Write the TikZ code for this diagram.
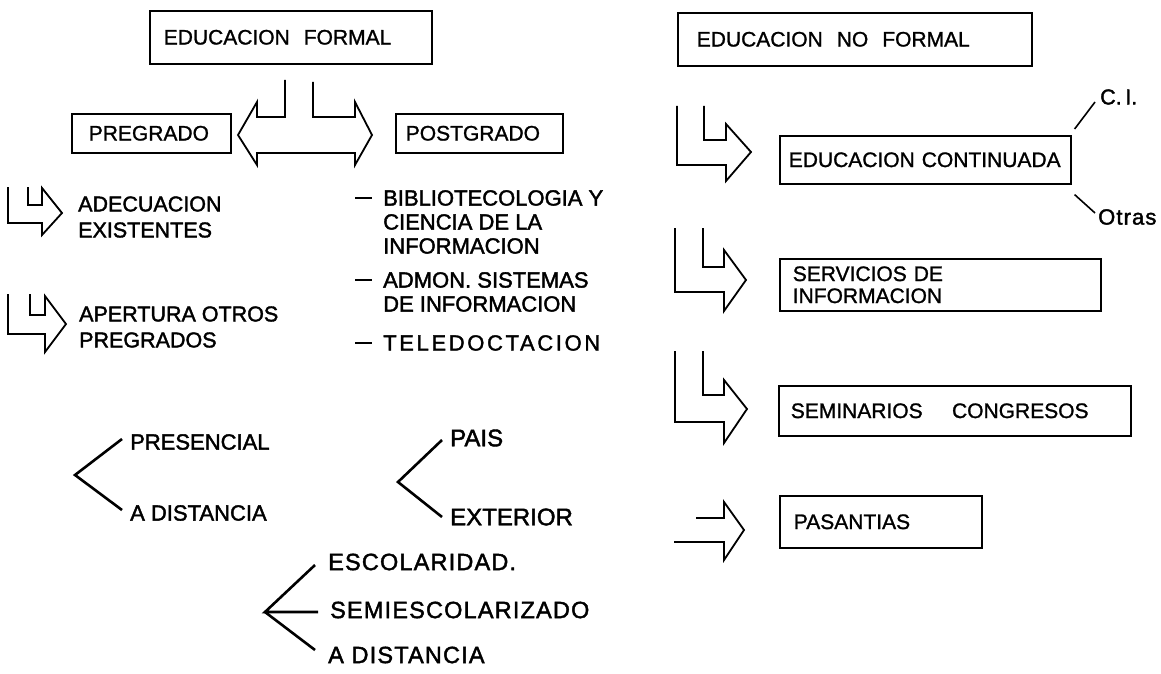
\documentclass[tikz,border=0pt]{standalone}
\usepackage{fontspec}
\setmainfont{Liberation Sans}[FakeBold=1.2]
\newfontfamily\spacedfont[LetterSpace=5,FakeBold=1.8]{Liberation Sans}
\newfontfamily\widefont[LetterSpace=12,FakeBold=1.6]{Liberation Sans}
\newfontfamily\heavyfont[FakeBold=1.8]{Liberation Sans}
\usetikzlibrary{calc}

\tikzset{
  box/.style={draw, line width=1.6pt, anchor=north west, align=left,
    inner ysep=0pt, font=\fontsize{21}{22}\selectfont},
  txt/.style={inner sep=0pt, anchor=west, align=left,
    font=\fontsize{21.5}{26}\heavyfont},
  listtxt/.style={txt, anchor=north west, font=\fontsize{22}{24}\heavyfont},
  bigtxt/.style={txt, font=\fontsize{24}{28}\heavyfont},
  widetxt/.style={txt, font=\fontsize{23.5}{28}\spacedfont},
  hollow/.style={line width=1.8pt, line join=miter},
  branch/.style={line width=2.6pt},
}

\begin{document}
\begin{tikzpicture}[x=1pt,y=-1pt]
  \useasboundingbox (0,0) rectangle (1161,674);
  % formal side
  \node[box, text width=254pt, inner xsep=14pt, minimum height=53pt] (ef) at (149,10) {EDUCACION~ FORMAL};
  \node[box, text width=125pt, inner xsep=17pt, minimum height=39pt] (pre) at (71,113) {PREGRADO};
  \node[box, text width=147pt, inner xsep=10pt, minimum height=39pt] (post) at (395,113) {POSTGRADO};
  \draw[hollow] (285,80) |- (257,117) -- (257,102) -- (238,135) -- (257,165) -- (257,153)
    -- (355,153) -- (355,165) -- (372,135) -- (355,102) -- (355,117) -| (313,82);

  \draw[hollow] (8,187) |- (42,223) -- (42,235) -- (62,213) -- (42,188) -- (42,205) -| (28,187);
  \node[txt] (adec) at (78,217) {ADECUACION\\EXISTENTES};
  \draw[hollow] (8,294) |- (45,334) -- (45,352) -- (66,324) -- (45,296) -- (45,315) -| (30,294);
  \node[txt] (aper) at (79,327) {APERTURA OTROS\\PREGRADOS};

  \node[listtxt] (bib) at (383,190) {BIBLIOTECOLOGIA Y\\CIENCIA DE LA\\INFORMACION};
  \node[listtxt] (adm) at (383,272) {ADMON. SISTEMAS\\DE INFORMACION};
  \node[listtxt, font=\fontsize{22}{24}\widefont] (tele) at (383,335) {TELEDOCTACION};
  \foreach \n in {bib,adm,tele}
    \draw[line width=2.8pt] ([xshift=-28pt,yshift=-8pt]\n.north west) -- ++(17,0);

  % modalidades
  \coordinate (v1) at (75,475);
  \node[txt, font=\fontsize{22}{26}\heavyfont] (pres) at (130,442) {PRESENCIAL};
  \node[txt, font=\fontsize{22}{26}\heavyfont] (dist1) at (130,513) {A DISTANCIA};
  \draw[branch] ([xshift=-8pt,yshift=3pt]pres.west) -- (v1) -- ([xshift=-8pt,yshift=3pt]dist1.west);

  \coordinate (v2) at (398,482);
  \node[bigtxt] (pais) at (450,438) {PAIS};
  \node[bigtxt] (ext) at (450,517) {EXTERIOR};
  \draw[branch] ([xshift=-8pt,yshift=-2pt]pais.west) -- (v2) -- ([xshift=-8pt]ext.west);

  \coordinate (v3) at (265,612);
  \node[widetxt] (esc) at (328,562) {ESCOLARIDAD.};
  \node[widetxt] (semi) at (330,610) {SEMIESCOLARIZADO};
  \node[widetxt] (dist2) at (328,655) {A DISTANCIA};
  \draw[branch] ([xshift=-13pt,yshift=-3pt]esc.west) -- (v3) -- ([xshift=-12pt,yshift=-2pt]semi.west);
  \draw[branch] (v3) -- ([xshift=-13pt,yshift=5pt]dist2.west);

  % no formal side
  \node[box, text width=316pt, inner xsep=19pt, minimum height=53pt] (enf) at (677,12) {EDUCACION~ NO~ FORMAL};
  \node[box, text width=273pt, inner xsep=9pt, minimum height=48pt] (ec) at (779,135) {EDUCACION CONTINUADA};
  \node[box, text width=295pt, inner xsep=13pt, minimum height=52pt] (si) at (779,258) {SERVICIOS DE\\INFORMACION};
  \node[box, text width=328pt, inner xsep=12pt, minimum height=50pt] (sc) at (778,385) {SEMINARIOS\hspace{1.4em}CONGRESOS};
  \node[box, text width=174pt, inner xsep=14pt, minimum height=52pt] (pas) at (779,495) {PASANTIAS};

  \draw[hollow] (704,106) |- (726,140) -- (726,124) -- (751,152) -- (726,181) -- (726,165) -| (677,106);
  \draw[hollow] (703,228) |- (724,267) -- (724,250) -- (746,280) -- (724,311) -- (724,292) -| (675,228);
  \draw[hollow] (703,351) |- (724,395) -- (724,380) -- (747,409) -- (724,443) -- (724,422) -| (675,351);
  \draw[hollow] (696,518) -- (724,518) -- (724,502) -- (744,530) -- (724,560) -- (724,542) -- (674,542);

  \node[txt] (ci) at (1100,97) {C.\,I.};
  \node[txt, font=\fontsize{22}{26}\spacedfont] (otr) at (1098,217) {Otras};
  \draw[line width=1.6pt] ([xshift=3pt,yshift=6pt]ec.north east) -- ([xshift=-5pt,yshift=-5pt]ci.west);
  \draw[line width=1.6pt] ([xshift=3pt,yshift=-10pt]ec.south east) -- ([xshift=-3pt,yshift=4pt]otr.west);
\end{tikzpicture}
\end{document}
